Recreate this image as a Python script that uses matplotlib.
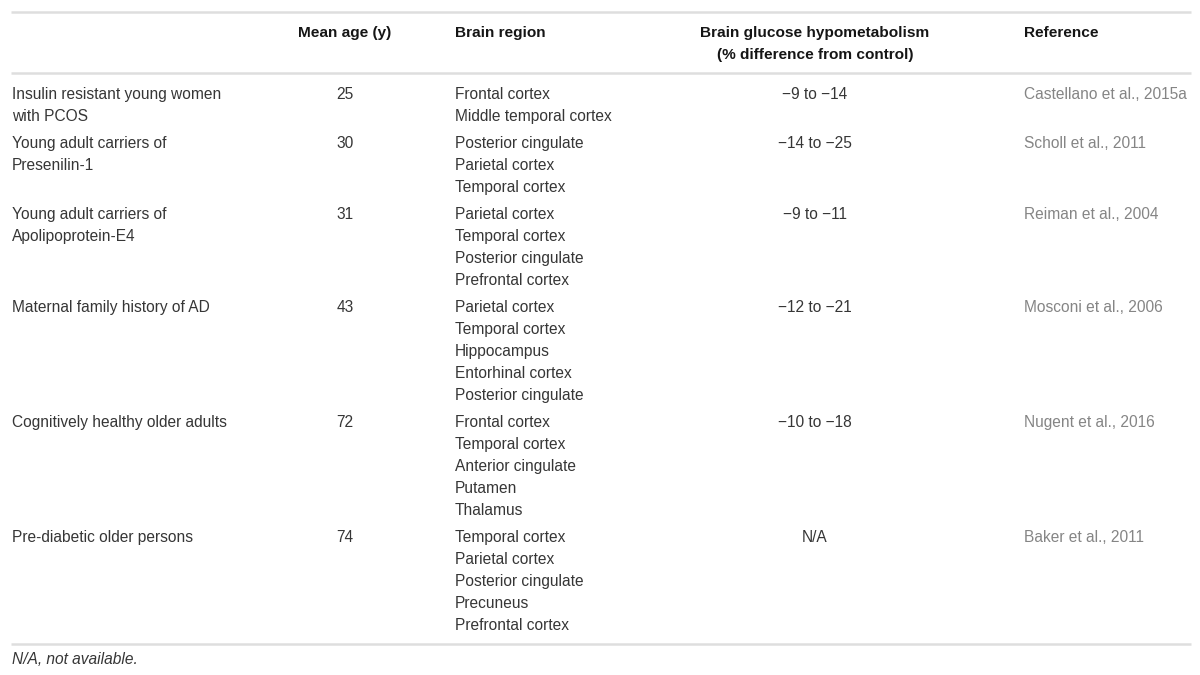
import matplotlib.pyplot as plt

# table content
groups = [
    "Insulin resistant young women\nwith PCOS",
    "Young adult carriers of\nPresenilin-1",
    "Young adult carriers of\nApolipoprotein-E4",
    "Maternal family history of AD",
    "Cognitively healthy older adults",
    "Pre-diabetic older persons",
]
mean_ages = ["25", "30", "31", "43", "72", "74"]
regions = [
    ["Frontal cortex", "Middle temporal cortex"],
    ["Posterior cingulate", "Parietal cortex", "Temporal cortex"],
    ["Parietal cortex", "Temporal cortex", "Posterior cingulate", "Prefrontal cortex"],
    ["Parietal cortex", "Temporal cortex", "Hippocampus", "Entorhinal cortex",
     "Posterior cingulate"],
    ["Frontal cortex", "Temporal cortex", "Anterior cingulate", "Putamen", "Thalamus"],
    ["Temporal cortex", "Parietal cortex", "Posterior cingulate", "Precuneus",
     "Prefrontal cortex"],
]
hypometabolism = ["\u22129 to \u221214", "\u221214 to \u221225", "\u22129 to \u221211",
                  "\u221212 to \u221221", "\u221210 to \u221218", "N/A"]
references = ["Castellano et al., 2015a", "Scholl et al., 2011", "Reiman et al., 2004",
              "Mosconi et al., 2006", "Nugent et al., 2016", "Baker et al., 2011"]
headers = ["", "Mean age (y)", "Brain region",
           "Brain glucose hypometabolism\n(% difference from control)", "Reference"]
footnote = "N/A, not available."

plt.rcParams['font.family'] = ['Liberation Sans', 'DejaVu Sans']

fig = plt.figure(figsize=(12, 6.75), dpi=100)
ax = fig.add_axes([0, 0, 1, 1])
ax.set_xlim(0, 1200)
ax.set_ylim(675, 0)
ax.axis('off')

fs = 11.2
body = '#363636'
line_h = 22

# column positions
col_x = [12, 345, 455, 815, 1024]
col_ha = ['left', 'center', 'left', 'center', 'left']

# rules
for y in [11.5, 72.5, 643.5]:
    ax.plot([11, 1191], [y, y], color='#dedede', lw=1.8, solid_capstyle='butt')

# header, one text per line
for x, ha, h in zip(col_x, col_ha, headers):
    for i, line in enumerate(h.split('\n')):
        ax.text(x, 37 + i * line_h, line, ha=ha, va='baseline', fontsize=11.1,
                fontweight='bold', color='#151515')

y = 99
for g, age, reg, hyp, ref in zip(groups, mean_ages, regions, hypometabolism, references):
    for i, line in enumerate(g.split('\n')):
        ax.text(col_x[0], y + i * line_h, line, ha='left', va='baseline', fontsize=fs,
                color=body)
    ax.text(col_x[1], y, age, ha='center', va='baseline', fontsize=fs, color=body)
    for i, r in enumerate(reg):
        ax.text(col_x[2], y + i * line_h, r, ha='left', va='baseline', fontsize=fs,
                color=body)
    ax.text(col_x[3], y, hyp, ha='center', va='baseline', fontsize=fs, color=body)
    ax.text(col_x[4], y, ref, ha='left', va='baseline', fontsize=fs, color='#858585')
    y += len(reg) * line_h + 5

ax.text(12, 664, footnote, ha='left', va='baseline', fontsize=fs, color=body,
        style='italic')

fig.savefig('out.png', dpi=100)
